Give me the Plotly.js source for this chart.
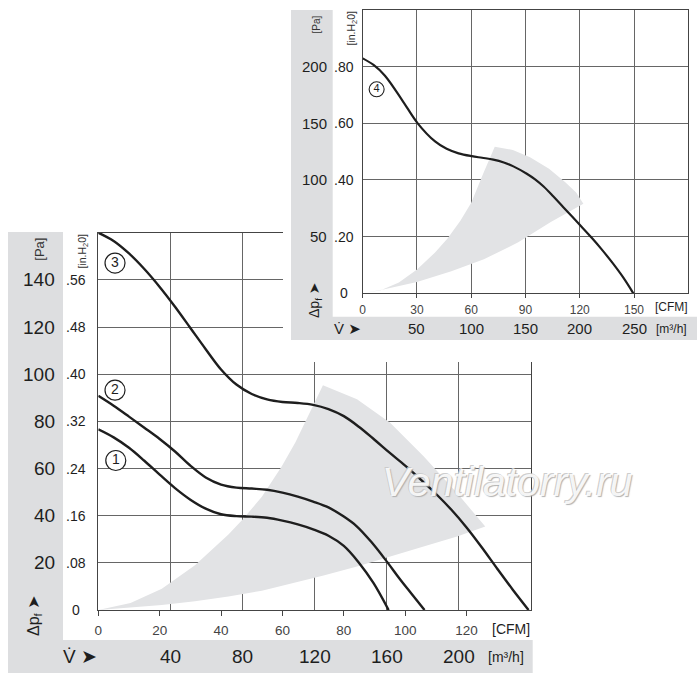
<!DOCTYPE html>
<html>
<head>
<meta charset="utf-8">
<script src="https://cdn.plot.ly/plotly-3.0.1.min.js"></script>
<style>
  html, body { margin: 0; padding: 0; background: #fff; }
  #chart { width: 700px; height: 683px; }
</style>
</head>
<body>
<div id="chart"></div>
<script>
// lower chart: fan curves 1-3 (flow in CFM, pressure in Pa)
var c1Cfm = [0, 5, 10, 15, 20, 25, 30, 35, 40, 45, 50, 55, 60, 65, 70, 75, 80, 84.8, 89.7, 94.6];
var c1Pa  = [76.6, 73.2, 68.8, 63.3, 57.4, 51.7, 46.8, 43, 40.6, 39.8, 39.6, 39.1, 37.9, 36.3, 34.2, 31.5, 27.2, 20.3, 11.4, 0];

var c2Cfm = [0, 5, 10, 15, 20, 25, 30, 35, 40, 45, 50, 55, 60, 65, 70, 75, 80, 84.3, 89, 94.1, 98, 102, 106.3];
var c2Pa  = [90.8, 86.6, 82, 77.3, 72.5, 67.2, 61.2, 56.2, 53.2, 51.9, 51.5, 51, 49.8, 48.1, 46, 43.5, 39.6, 35.4, 28.8, 20.4, 13.6, 7, 0];

var c3Cfm = [0, 5, 10, 15, 20, 25, 30, 35, 40, 45, 50, 55, 60, 65, 70, 75, 80, 85, 90, 95, 100, 105, 110, 115, 120, 125, 130, 135, 140.2];
var c3Pa  = [160, 156.5, 151.2, 144.6, 137, 128.6, 119.6, 110.6, 102, 95.6, 91.6, 89.3, 88.2, 87.8, 87, 85.2, 82.2, 77.6, 72.2, 66.6, 61.2, 55.4, 49.3, 42.6, 35, 26.5, 17.5, 8.7, 0];

// grey operating range of the lower chart (upper edge, arc, lower edge back to 0)
var lowZoneCfm = [0, 10.5, 20.7, 31.5, 42.4, 47.1, 53.3, 59.8, 64.2, 68, 73.2,
                  84.3, 95.1, 106, 116.9, 126.1,
                  116.9, 106, 95.1, 84.3, 73.4, 63, 53.3, 42.4, 31.5, 20.7, 10, 0];
var lowZonePa  = [0, 3, 9, 19, 32, 38.5, 48, 61, 71, 81.5, 95.3,
                  89.4, 79.4, 65.2, 49.6, 35.4,
                  31.2, 26.9, 22.7, 18.4, 14.6, 11.2, 8.2, 5.7, 3.7, 2.1, 0.9, 0];

var lowCfmTicks = [0, 20, 40, 60, 80, 100, 120];
var lowM3hTicks = [40, 80, 120, 160, 200];
var lowPaTicks = [0, 20, 40, 60, 80, 100, 120, 140];
var lowInchLabels = ['0', '.08', '.16', '.24', '.32', '.40', '.48', '.56'];
var lowLabelCfm = [5.7, 5.45, 5.45];
var lowLabelPa = [63.4, 93.2, 147.1];
var lowLabelText = ['1', '2', '3'];

// upper chart: fan curve 4
var c4Cfm = [0, 6, 12.3, 21.6, 30.4, 40, 46.4, 53, 60.3, 66, 72.2, 78, 83.3, 90.7, 95.3, 100, 105.3, 110.9, 120.1, 126.6, 132, 138, 144, 149.6];
var c4Pa  = [207.3, 201.5, 192, 171, 150, 134, 127.5, 123.5, 121, 119.6, 118, 115.5, 112, 105.5, 100.5, 94.2, 85.6, 76, 60.3, 49, 39, 27, 14, 0];

var topZoneCfm = [0, 10, 20, 30, 40, 47, 54, 60, 66.7, 73,
                  83, 92.5, 103, 112, 118, 122,
                  104, 86, 67, 49, 30, 12, 0];
var topZonePa  = [0, 2.8, 9.5, 21, 36, 48.5, 64, 80, 106, 129.4,
                  126.5, 120, 110, 98, 89, 79,
                  63, 45, 30, 19.5, 10, 3.5, 0];

var topCfmTicks = [0, 30, 60, 90, 120, 150];
var topM3hTicks = [50, 100, 150, 200, 250];
var topPaTicks = [0, 50, 100, 150, 200];
var topInchLabels = ['0', '.20', '.40', '.60', '.80'];
var topLabelCfm = [7.7];
var topLabelPa = [180];
var topLabelText = ['4'];

var W = 700, H = 683;
function px(x) { return x / W; }
function py(y) { return 1 - y / H; }
// panel coords for the upper chart's cover box (283..700 x 0..362 px)
function qx(x) { return (x - 283) / 417; }
function qy(y) { return (362 - y) / 362; }

var FONT = 'Liberation Sans, Arial, DejaVu Sans, sans-serif';
var INK = '#1e1e1e';
var STRIP = '#dddee0';
var ZONE = '#e2e3e5';
var GRID = '#666666';

function curve(x, y, xa, ya, w) {
    return {x: x, y: y, xaxis: xa, yaxis: ya, mode: 'lines',
            line: {color: INK, width: w, shape: 'spline', smoothing: 1}};
}

var data = [
    {x: lowZoneCfm, y: lowZonePa, xaxis: 'x', yaxis: 'y', mode: 'lines', fill: 'toself',
     fillcolor: ZONE, line: {width: 0}, hoverinfo: 'skip'},
    curve(c1Cfm, c1Pa, 'x', 'y', 2.4),
    curve(c2Cfm, c2Pa, 'x', 'y', 2.4),
    curve(c3Cfm, c3Pa, 'x', 'y', 2.4),
    {x: lowLabelCfm, y: lowLabelPa, text: lowLabelText, xaxis: 'x', yaxis: 'y', mode: 'markers+text',
     textposition: 'middle center', textfont: {family: FONT, size: 14, color: INK}, cliponaxis: false,
     marker: {size: 20, color: '#fff', line: {color: INK, width: 1.2}}},
    // empty traces so the cover box and the m3/h overlay axes exist
    {x: [], y: [], xaxis: 'x4', yaxis: 'y'},
    {x: [], y: [], xaxis: 'x2', yaxis: 'y2'},
    {x: [], y: [], xaxis: 'x5', yaxis: 'y3'},
    {x: topZoneCfm, y: topZonePa, xaxis: 'x3', yaxis: 'y3', mode: 'lines', fill: 'toself',
     fillcolor: ZONE, line: {width: 0}, hoverinfo: 'skip'},
    curve(c4Cfm, c4Pa, 'x3', 'y3', 2.2),
    {x: topLabelCfm, y: topLabelPa, text: topLabelText, xaxis: 'x3', yaxis: 'y3', mode: 'markers+text',
     textposition: 'middle center', textfont: {family: FONT, size: 11, color: INK}, cliponaxis: false,
     marker: {size: 15, color: '#fff', line: {color: INK, width: 1.1}}}
];

var hidden = {showgrid: false, zeroline: false, showline: false, showticklabels: false, ticks: '', fixedrange: true};

var layout = {
    width: W, height: H,
    margin: {l: 0, r: 0, t: 0, b: 0, pad: 0},
    paper_bgcolor: '#fff', plot_bgcolor: '#fff',
    showlegend: false, hovermode: false,
    font: {family: FONT, color: INK},

    // lower chart
    xaxis: {domain: [px(98.3), px(531)], range: [0, 141], anchor: 'y',
            tickvals: lowCfmTicks, ticks: 'outside', ticklen: 5, tickwidth: 1, tickcolor: '#444',
            ticklabelstandoff: 3,
            tickfont: {size: 13.5, color: '#444'}, showgrid: false, zeroline: false,
            showline: true, linecolor: '#444', linewidth: 1, mirror: true},
    xaxis4: {overlaying: 'x', anchor: 'y', range: [0, 240], tickvals: lowM3hTicks,
             showgrid: true, gridcolor: GRID, gridwidth: 1, zeroline: false, showline: false,
             showticklabels: false, ticks: ''},
    yaxis: {domain: [py(610), py(232.7)], range: [0, 160], anchor: 'x',
            tickvals: lowPaTicks, showticklabels: false, ticks: '',
            showgrid: true, gridcolor: GRID, gridwidth: 1, zeroline: false,
            showline: true, linecolor: '#444', linewidth: 1, mirror: true},

    // white cover box behind the upper chart
    xaxis2: Object.assign({domain: [px(283), 1], range: [0, 1], anchor: 'y2'}, hidden),
    yaxis2: Object.assign({domain: [py(362), 1], range: [0, 1], anchor: 'x2'}, hidden),

    // upper chart
    xaxis3: {domain: [px(362.7), px(688.3)], range: [0, 180], anchor: 'y3',
             tickvals: topCfmTicks, ticks: 'outside', ticklen: 4, tickwidth: 1, tickcolor: '#444',
             ticklabelstandoff: 1,
             tickfont: {size: 12, color: '#444'}, showgrid: true, gridcolor: GRID, gridwidth: 1,
             zeroline: false, showline: true, linecolor: '#444', linewidth: 1, mirror: true},
    xaxis5: Object.assign({overlaying: 'x3', anchor: 'y3', range: [0, 300]}, hidden),
    yaxis3: {domain: [py(293.3), py(10)], range: [0, 250], anchor: 'x3',
             tickvals: topPaTicks, showticklabels: false, ticks: '',
             showgrid: true, gridcolor: GRID, gridwidth: 1, zeroline: false,
             showline: true, linecolor: '#444', linewidth: 1, mirror: true},

    shapes: [
        // lower chart grey strips
        {type: 'rect', xref: 'paper', yref: 'paper', layer: 'below',
         x0: px(8), x1: px(63), y0: py(673), y1: py(232), fillcolor: STRIP, line: {width: 0}},
        {type: 'rect', xref: 'paper', yref: 'paper', layer: 'below',
         x0: px(8), x1: px(532.7), y0: py(673), y1: py(640), fillcolor: STRIP, line: {width: 0}},
        // upper chart grey strips (drawn on the cover box)
        {type: 'rect', xref: 'x2', yref: 'y2', layer: 'below',
         x0: qx(291), x1: qx(332.7), y0: qy(340), y1: qy(10), fillcolor: STRIP, line: {width: 0}},
        {type: 'rect', xref: 'x2', yref: 'y2', layer: 'below',
         x0: qx(291), x1: qx(697), y0: qy(340), y1: qy(316.7), fillcolor: STRIP, line: {width: 0}}
    ],
    annotations: []
};

var ann = layout.annotations;
function addText(opts) {
    ann.push(Object.assign({showarrow: false, xref: 'paper', yref: 'paper',
                            xanchor: 'center', yanchor: 'middle', borderpad: 0}, opts));
}

// lower chart labels
lowPaTicks.forEach(function (v, i) {
    if (v > 0) {
        addText({x: px(56), xanchor: 'right', yref: 'y', y: v, text: String(v),
                 font: {size: 19, color: INK}});
    }
    addText({x: px(76), yref: 'y', y: v, text: lowInchLabels[i], font: {size: 14, color: INK}});
});
lowM3hTicks.forEach(function (v) {
    addText({xref: 'x4', x: v, y: py(656.5), text: String(v), font: {size: 19, color: INK}});
});
addText({x: px(40), y: py(249.7), text: '[Pa]', textangle: -90, font: {size: 13, color: '#333'}});
addText({x: px(82.5), y: py(251), text: '[in.H<sub>2</sub>0]', textangle: -90, font: {size: 10.5, color: '#333'}});
addText({x: px(34), y: py(616), text: '\u0394p<sub>f</sub> \u27A4', textangle: -90, font: {size: 16, color: INK}});
addText({x: px(80), y: py(656.5), text: 'V\u0307 \u27A4', font: {size: 19, color: INK}});
addText({x: px(506), y: py(657), text: '[m\u00B3/h]', font: {size: 14, color: INK}});
addText({x: px(510.5), y: py(629), text: '[CFM]', font: {size: 14, color: INK}});

// upper chart labels
topPaTicks.forEach(function (v, i) {
    if (v > 0) {
        addText({x: px(327.5), xanchor: 'right', yref: 'y3', y: v, text: String(v),
                 font: {size: 15, color: INK}});
    }
    addText({x: px(344), yref: 'y3', y: v, text: topInchLabels[i], font: {size: 14, color: INK}});
});
topM3hTicks.forEach(function (v) {
    addText({xref: 'x5', x: v, y: py(328), text: String(v), font: {size: 15, color: INK}});
});
addText({x: px(315.5), y: py(25), text: '[Pa]', textangle: -90, font: {size: 10, color: '#333'}});
addText({x: px(352), y: py(28.5), text: '[in.H<sub>2</sub>0]', textangle: -90, font: {size: 10.5, color: '#333'}});
addText({x: px(315), y: py(300), text: '\u0394p<sub>f</sub> \u27A4', textangle: -90, font: {size: 14, color: INK}});
addText({x: px(347), y: py(328), text: 'V\u0307 \u27A4', font: {size: 15, color: INK}});
addText({x: px(671), y: py(328.5), text: '[m\u00B3/h]', font: {size: 12, color: INK}});
addText({x: px(671.5), y: py(307), text: '[CFM]', font: {size: 12, color: INK}});

// watermark
addText({x: px(507), y: py(482), text: 'Ventilatorry.ru',
         font: {size: 41, color: 'rgba(255,255,255,0.9)', style: 'italic',
                shadow: '1px 1px 1px #a8a8a8, -1px -1px 0 #c8c8c8'}});

Plotly.newPlot('chart', data, layout, {staticPlot: true, displayModeBar: false});
</script>
</body>
</html>
